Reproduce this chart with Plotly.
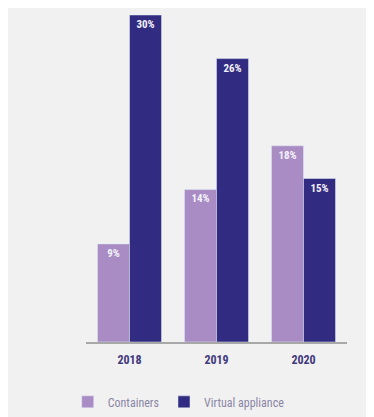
import plotly.graph_objects as go

years = ["2018", "2019", "2020"]
containers = [9, 14, 18]
virtual_appliance = [30, 26, 15]

c_cont = "#a98cc4"
c_virt = "#312c81"
narrow = "Liberation Sans Narrow, Roboto Condensed, Roboto"

fig = go.Figure()
fig.add_trace(go.Bar(
    x=years, y=containers, name="Containers", marker_color=c_cont,
    text=[f"{v}%" for v in containers], textposition="inside",
    insidetextanchor="end", textangle=0,
    textfont=dict(color="#f4f2fa", size=11, family=narrow, weight="bold"),
))
fig.add_trace(go.Bar(
    x=years, y=virtual_appliance, name="Virtual appliance", marker_color=c_virt,
    text=[f"{v}%" for v in virtual_appliance], textposition="inside",
    insidetextanchor="end", textangle=0,
    textfont=dict(color="#f4f2fa", size=11, family=narrow, weight="bold"),
))
fig.update_layout(
    width=374, height=417,
    margin=dict(l=78, r=35, t=7, b=83, autoexpand=False),
    paper_bgcolor="#f1f1f1", plot_bgcolor="#f1f1f1",
    barmode="group", bargap=0.264, bargroupgap=0,
    showlegend=True,
    legend=dict(orientation="h", x=-0.07, xanchor="left", y=-0.183, yanchor="middle",
                font=dict(color="#8a86a6", size=12, family=narrow),
                traceorder="normal"),
    font=dict(family=narrow),
)
fig.update_xaxes(showline=True, linecolor="#a8a8a8", linewidth=1.5, automargin=False,
                 tickfont=dict(color="#3f3a7c", size=12, family=narrow, weight="bold"),
                 ticks="outside", ticklen=6, tickcolor="rgba(0,0,0,0)")
fig.update_yaxes(visible=False, range=[0, 30], showgrid=False, automargin=False)
fig.write_html("out.html")
